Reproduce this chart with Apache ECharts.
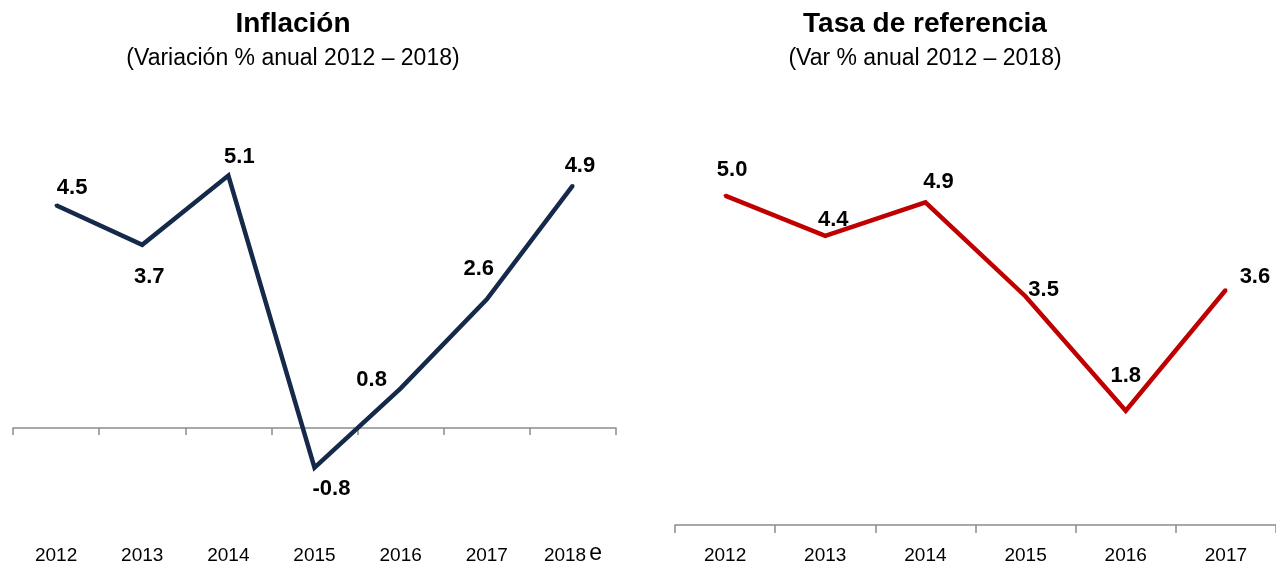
<!DOCTYPE html>
<html>
<head>
<meta charset="UTF-8">
<title>Inflación y tasa de referencia</title>
<script src="https://cdn.jsdelivr.net/npm/echarts@6/dist/echarts.min.js"></script>
<style>
html,body{margin:0;padding:0;background:#fff;}
#main{width:1276px;height:569px;}
</style>
</head>
<body>
<div id="main"></div>
<script>
// datos
var aniosInf = ['2012', '2013', '2014', '2015', '2016', '2017', '2018e'];
var inflacion = [4.5, 3.7, 5.1, -0.8, 0.8, 2.6, 4.9];
var aniosTasa = ['2012', '2013', '2014', '2015', '2016', '2017'];
var tasaRef = [5.0, 4.4, 4.9, 3.5, 1.8, 3.6];

// desplazamiento de las etiquetas respecto al punto
var offInf = [[16, -17], [7, 32], [11, -19], [17, 21], [-29, -8], [-8, -30], [7, -20]];
var offTasa = [[7, -26], [8, -16], [13, -20], [18, -7], [0, -35], [29, -13]];

var FONT = "'Liberation Sans Narrow', 'Arial Narrow', 'Liberation Sans', Arial, sans-serif";
var gris = '#8c8c8c';

function puntos(vals, offs) {
	var res = [];
	for (var i = 0; i < vals.length; i++) {
		res.push({value: vals[i], label: {offset: offs[i]}});
	}
	return res;
}

function etiquetaAnio(v) {
	if (v.charAt(v.length - 1) == 'e') {
		return v.substring(0, v.length - 1) + '{e|e}';
	}
	return v;
}

var chart = echarts.init(document.getElementById('main'));
var option = {
	backgroundColor: '#fff',
	animation: false,
	textStyle: {fontFamily: FONT},
	title: [
		{text: 'Inflación', left: 288, top: 5, textAlign: 'center',
			textStyle: {fontFamily: FONT, fontSize: 28, fontWeight: 'bold', color: '#000'}},
		{text: '(Variación % anual 2012 – 2018)', left: 288, top: 42, textAlign: 'center',
			textStyle: {fontFamily: FONT, fontSize: 23, fontWeight: 'normal', color: '#000'}},
		{text: 'Tasa de referencia', left: 920, top: 5, textAlign: 'center',
			textStyle: {fontFamily: FONT, fontSize: 28, fontWeight: 'bold', color: '#000'}},
		{text: '(Var % anual 2012 – 2018)', left: 920, top: 42, textAlign: 'center',
			textStyle: {fontFamily: FONT, fontSize: 23, fontWeight: 'normal', color: '#000'}}
	],
	grid: [
		{left: 13, width: 603, top: 131, bottom: 42, containLabel: false, outerBoundsMode: 'none'},
		{left: 675, width: 601, top: 162, bottom: 44, containLabel: false, outerBoundsMode: 'none'}
	],
	xAxis: [
		// eje en cero, solo linea y marcas
		{type: 'category', gridIndex: 0, data: aniosInf, boundaryGap: true,
			axisLine: {onZero: true, lineStyle: {color: gris, width: 1.5}},
			axisTick: {show: true, length: 7, lineStyle: {color: gris, width: 1.5}},
			axisLabel: {show: false}},
		// etiquetas abajo
		{type: 'category', gridIndex: 0, data: aniosInf, position: 'bottom', boundaryGap: true,
			axisLine: {show: false, onZero: false}, axisTick: {show: false},
			axisLabel: {interval: 0, margin: 19, fontFamily: FONT, fontSize: 19, lineHeight: 19, color: '#000',
				formatter: etiquetaAnio,
				rich: {e: {fontFamily: FONT, fontSize: 23, lineHeight: 19, verticalAlign: 'bottom',
					color: '#000', padding: [0, 0, 0, 3]}}}},
		{type: 'category', gridIndex: 1, data: aniosTasa, boundaryGap: true,
			axisLine: {onZero: false, lineStyle: {color: gris, width: 1.5}},
			axisTick: {show: true, length: 8, lineStyle: {color: gris, width: 1.5}},
			axisLabel: {interval: 0, margin: 21, fontFamily: FONT, fontSize: 19, color: '#000'}}
	],
	yAxis: [
		{type: 'value', gridIndex: 0, min: -2, max: 6, show: false, splitLine: {show: false}},
		{type: 'value', gridIndex: 1, min: 0.1, max: 5.5, show: false, splitLine: {show: false}}
	],
	series: [
		{name: 'Inflación', type: 'line', xAxisIndex: 0, yAxisIndex: 0,
			data: puntos(inflacion, offInf),
			symbol: 'circle', symbolSize: 3,
			itemStyle: {color: '#15294a'},
			lineStyle: {color: '#15294a', width: 4.5, join: 'miter', cap: 'butt'},
			label: {show: true, position: 'inside', fontFamily: FONT, fontSize: 22, fontWeight: 'bold',
				color: '#000', formatter: function (p) { return p.value.toFixed(1); }}},
		{name: 'Tasa de referencia', type: 'line', xAxisIndex: 2, yAxisIndex: 1,
			data: puntos(tasaRef, offTasa),
			symbol: 'circle', symbolSize: 3,
			itemStyle: {color: '#c00000'},
			lineStyle: {color: '#c00000', width: 4.5, join: 'miter', cap: 'butt'},
			label: {show: true, position: 'inside', fontFamily: FONT, fontSize: 22, fontWeight: 'bold',
				color: '#000', formatter: function (p) { return p.value.toFixed(1); }}}
	]
};
chart.setOption(option);
</script>
</body>
</html>
